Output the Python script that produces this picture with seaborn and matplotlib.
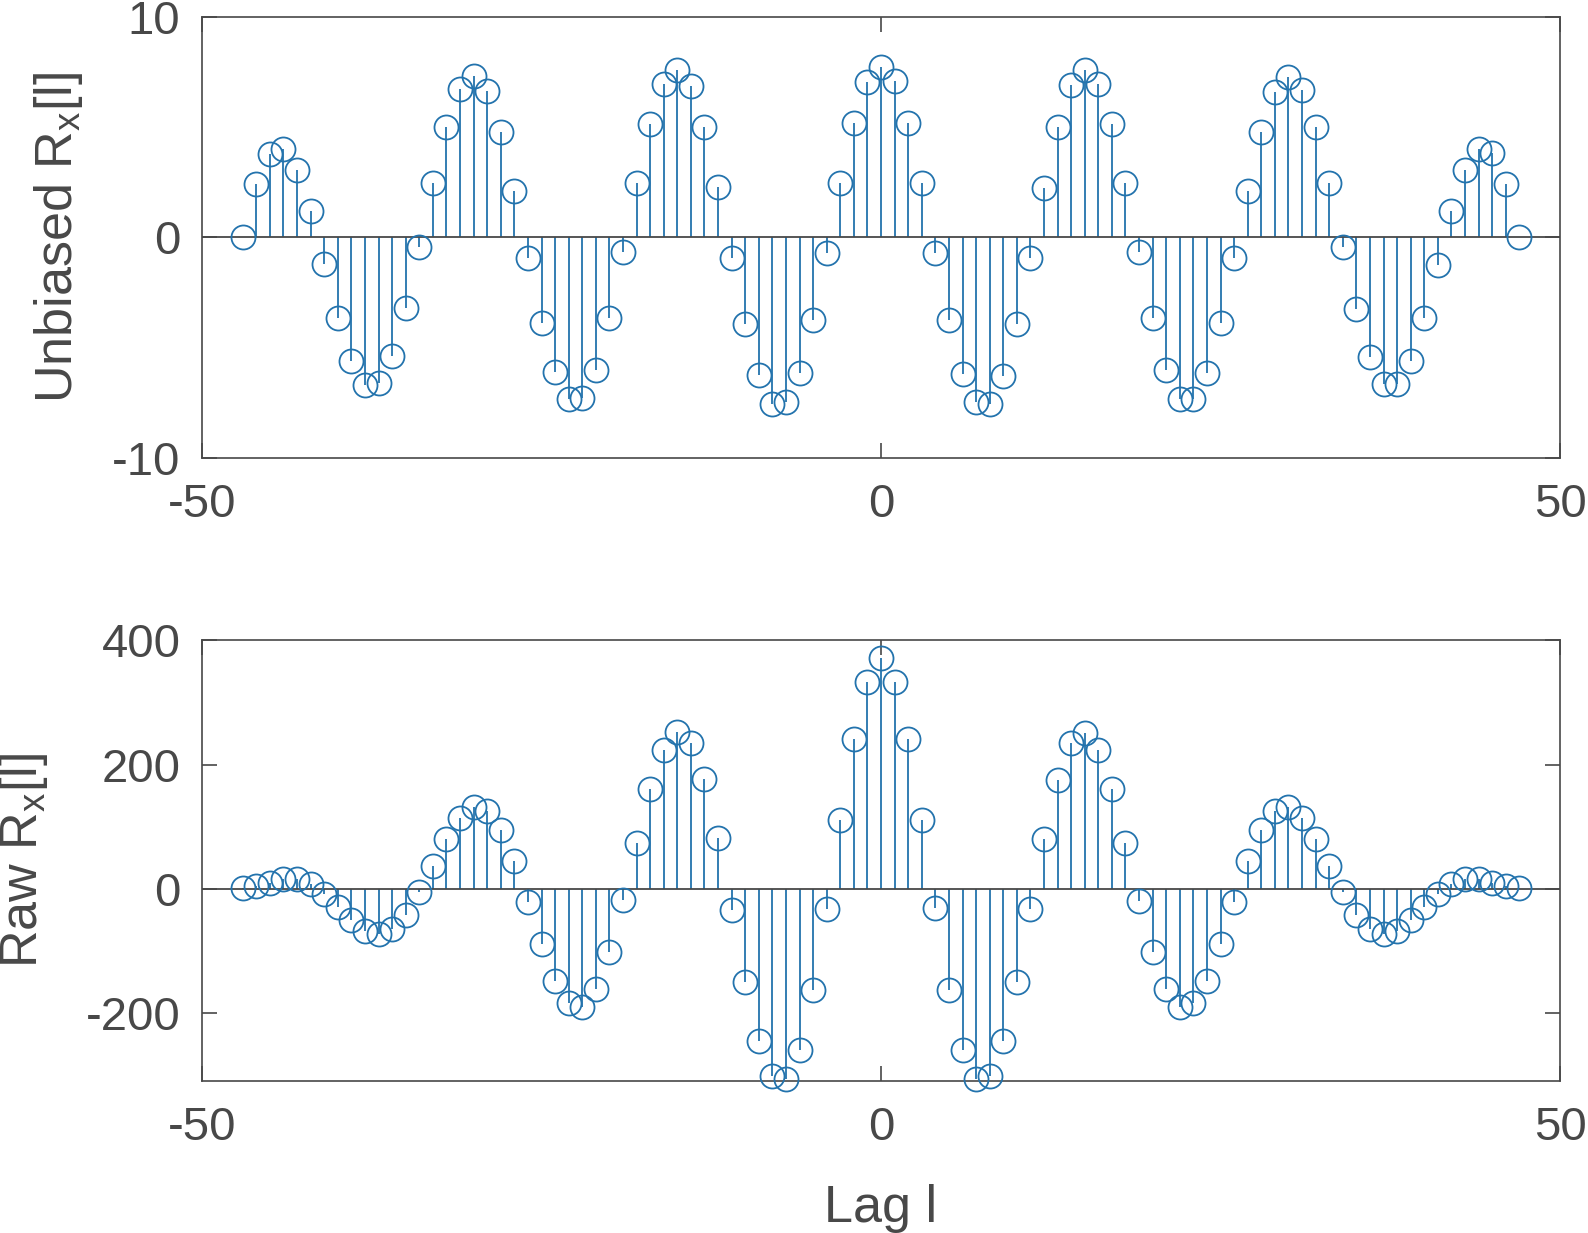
import numpy as np
import pandas as pd
import matplotlib
matplotlib.use("Agg")
import matplotlib.pyplot as plt
import seaborn as sns

# ---- data ----
lags = list(range(-47, 48))

unbiased = [
    0.00, 2.41, 3.80, 4.02, 3.06, 1.18, -1.21, -3.65, -5.60, -6.69,
    -6.61, -5.40, -3.22, -0.45, 2.47, 5.01, 6.72, 7.31, 6.63, 4.78,
    2.09, -0.95, -3.89, -6.13, -7.34, -7.31, -6.01, -3.66, -0.65, 2.47,
    5.17, 6.97, 7.61, 6.90, 5.02, 2.27, -0.91, -3.92, -6.26, -7.55,
    -7.49, -6.16, -3.77, -0.71, 2.47, 5.22, 7.08, 7.73,
    7.10, 5.22, 2.47, -0.71, -3.77, -6.19, -7.49, -7.55, -6.28, -3.92,
    -0.92, 2.25, 5.01, 6.91, 7.61, 6.97, 5.17, 2.47, -0.67, -3.65,
    -6.01, -7.32, -7.35, -6.14, -3.89, -0.95, 2.09, 4.77, 6.60, 7.29,
    6.70, 5.01, 2.47, -0.45, -3.24, -5.43, -6.64, -6.67, -5.61, -3.65,
    -1.23, 1.18, 3.07, 4.04, 3.83, 2.42, 0.00,
]

raw = [
    0.5, 4.3, 10, 15, 15, 7.5, -8, -29, -50, -68,
    -73, -65, -42, -5, 37, 80, 114, 132, 125, 95,
    44, -21, -89, -148, -184, -191, -162, -102, -18, 74,
    160, 224, 252, 235, 176, 81, -34, -150, -245, -302,
    -307, -260, -163, -32, 110, 241, 333, 371,
    333, 241, 110, -31, -163, -260, -307, -301, -245, -150,
    -33, 80, 175, 235, 251, 224, 160, 74, -19, -102,
    -162, -191, -184, -148, -89, -21, 44, 95, 125, 132,
    114, 80, 37, -5, -42, -65, -73, -68, -50, -29,
    -8, 7.5, 15, 15, 10, 4.3, 0.5,
]

xticks = [-50, 0, 50]
top_yticks = [-10, 0, 10]
bot_yticks = [-200, 0, 200, 400]

# ---- style ----
sns.set_theme(style="white")
plt.rcParams["font.family"] = ["Liberation Sans", "DejaVu Sans"]
plt.rcParams["axes.unicode_minus"] = False
plt.rcParams["mathtext.fontset"] = "custom"
plt.rcParams["mathtext.rm"] = "Liberation Sans"
plt.rcParams["mathtext.it"] = "Liberation Sans:italic"

BLUE = "#2373ad"
GREY = "#484848"
TICK_FS = 34
LABEL_FS = 37.5

fig = plt.figure(figsize=(15.88, 12.33), dpi=100)
ax_top = fig.add_axes([0.1272, 0.6288, 0.8552, 0.3572])
ax_bot = fig.add_axes([0.1272, 0.1235, 0.8552, 0.3572])


def stem_panel(ax, vals, ylim, yticks, ylabel, label_x):
    df = pd.DataFrame({"lag": lags, "val": vals})
    ax.vlines(df["lag"], 0, df["val"], color=BLUE, lw=1.3, zorder=2)
    ax.axhline(0, color=GREY, lw=1.3, zorder=3)
    sns.lineplot(data=df, x="lag", y="val", ax=ax, estimator=None, sort=False,
                 linestyle="none", marker="o", markersize=17.3,
                 markerfacecolor="none", markeredgecolor=BLUE,
                 markeredgewidth=1.3, color=BLUE, zorder=4, clip_on=False)
    ax.set_xlim(-50, 50)
    ax.set_ylim(*ylim)
    ax.set_xticks(xticks)
    ax.set_xticklabels([str(t) for t in xticks])
    ax.set_yticks(yticks)
    ax.set_yticklabels([str(t) for t in yticks])
    for sp in ax.spines.values():
        sp.set_visible(True)
        sp.set_color(GREY)
        sp.set_linewidth(1.2)
    ax.tick_params(axis="both", direction="in", length=10.8, width=1.2,
                   color=GREY, labelcolor=GREY, labelsize=TICK_FS,
                   top=True, right=True, bottom=True, left=True)
    ax.tick_params(axis="x", pad=18.5)
    ax.tick_params(axis="y", pad=15.5)
    ax.set_xlabel("")
    ax.set_ylabel(ylabel, fontsize=LABEL_FS, color=GREY)
    ax.yaxis.set_label_coords(label_x, 0.5)
    ax.grid(False)


stem_panel(ax_top, unbiased, (-10, 10), top_yticks,
           r"Unbiased R$_{\mathregular{x}}$[l]", -0.0862)
stem_panel(ax_bot, raw, (-309, 400), bot_yticks,
           r"Raw R$_{\mathregular{x}}$[l]", -0.1116)
ax_bot.set_xlabel("Lag l", fontsize=LABEL_FS, color=GREY, labelpad=24)

fig.savefig("out.png", dpi=100, facecolor="white")
